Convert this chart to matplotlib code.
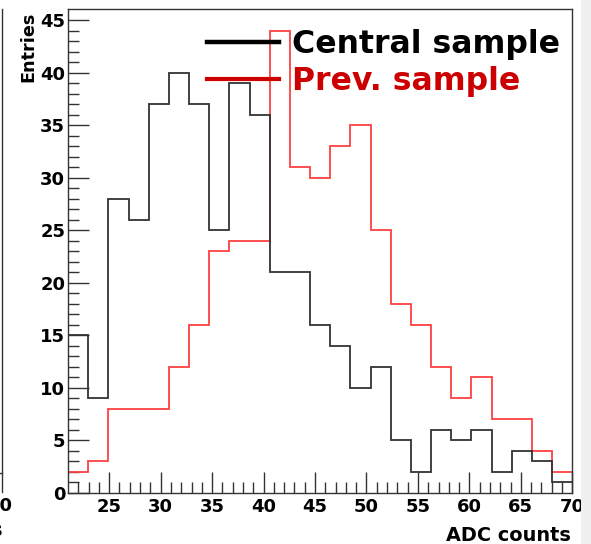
import numpy as np
import matplotlib.pyplot as plt
from matplotlib.lines import Line2D
from matplotlib.patches import Rectangle

# histogram binning: 25 bins between 21 and 70 ADC counts
bin_lo, bin_hi, n_bins = 21, 70, 25
central = [15, 9, 28, 26, 37, 40, 37, 25, 39, 36, 21, 21, 16,
           14, 10, 12, 5, 2, 6, 5, 6, 2, 4, 3, 1]
previous = [2, 3, 8, 8, 8, 12, 16, 23, 24, 24, 44, 31, 30,
            33, 35, 25, 18, 16, 12, 9, 11, 7, 7, 4, 2]
labels = ["Central sample", "Prev. sample"]
x_ticks = [25, 30, 35, 40, 45, 50, 55, 60, 65, 70]
y_ticks = [0, 5, 10, 15, 20, 25, 30, 35, 40, 45]

edges = np.linspace(bin_lo, bin_hi, n_bins + 1)

fig = plt.figure(figsize=(5.91, 5.44), dpi=100)
ax = fig.add_axes([68 / 591, 1 - 492.7 / 544, 504.3 / 591, 483.4 / 544])

ax.stairs(central, edges, baseline=None, color="#333333", lw=1.3, zorder=3)
ax.stairs(previous, edges, baseline=None, color="#ff4040", lw=1.3, zorder=2)

ax.set_xlim(bin_lo, bin_hi)
ax.set_ylim(0, 46.05)
ax.set_xticks(x_ticks)
ax.set_yticks(y_ticks)
ax.set_xticks(np.arange(22, 70), minor=True)
ax.set_yticks(np.arange(1, 46), minor=True)
ax.tick_params(which="both", direction="in", top=False, right=False,
               color="#333333", width=1.0)
ax.tick_params(which="major", length=15)
ax.tick_params(which="minor", length=8)
ax.tick_params(axis="x", pad=4)
ax.tick_params(axis="y", pad=2)
for lab in ax.get_xticklabels() + ax.get_yticklabels():
    lab.set_fontsize(13)
    lab.set_fontweight("bold")
for sp in ax.spines.values():
    sp.set_color("#333333")
    sp.set_linewidth(1.0)

handles = [Line2D([], [], color="black", lw=3.2),
           Line2D([], [], color="#cc0000", lw=3.0)]
leg = ax.legend(handles, labels, loc="upper left", bbox_to_anchor=(0.275, 0.96),
                frameon=False, borderpad=0, borderaxespad=0,
                handlelength=2.3, handletextpad=0.4, labelspacing=0.21,
                prop={"weight": "bold", "size": 22.7})
leg.set_zorder(5)
leg.get_texts()[0].set_color("black")
leg.get_texts()[1].set_color("#cc0000")

fig.text(28 / 591, 1 - 12 / 544, "Entries", rotation=90, ha="center", va="top",
         fontsize=12.7, fontweight="bold")
fig.text(571 / 591, 1 - 541 / 544, "ADC counts", ha="right", va="baseline",
         fontsize=13.9, fontweight="bold")

# bits of the neighbouring panel and slide border
fig.add_artist(Line2D([2 / 591, 2 / 591], [1 - 9 / 544, 1 - 492 / 544],
                      transform=fig.transFigure, color="#333333", lw=1.0))
fig.add_artist(Line2D([0, 2 / 591], [1 - 473 / 544, 1 - 473 / 544],
                      transform=fig.transFigure, color="#333333", lw=1.0))
fig.text(13 / 591, 1 - 511 / 544, "70", ha="right", va="baseline",
         fontsize=13, fontweight="bold")
fig.text(3 / 591, 1 - 536 / 544, "s", ha="right", va="baseline",
         fontsize=13.9, fontweight="bold")
fig.add_artist(Rectangle((581 / 591, 0), 10 / 591, 1, transform=fig.transFigure,
                         color="#f0f0f0", lw=0))

fig.savefig("out.png", dpi=100)
